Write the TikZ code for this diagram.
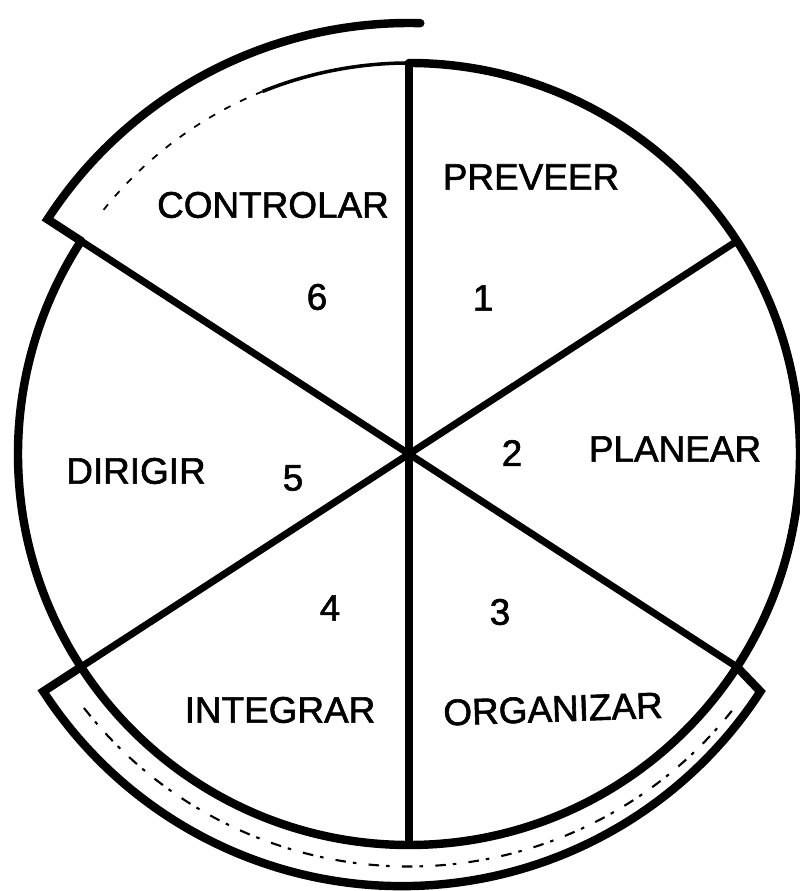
\documentclass[tikz,border=0pt]{standalone}
\usepackage{fontspec}
\setmainfont{Liberation Sans}
\newfontfamily\wheelfont[FakeBold=1.6]{Liberation Sans}
\begin{document}
\begin{tikzpicture}[
  lbl/.style={font=\wheelfont\fontsize{21}{25}\selectfont, inner sep=0pt},
  rim/.style={line width=4.8pt, line cap=round, line join=miter},
  spoke/.style={line width=4pt}]
\useasboundingbox (0,0) rectangle (15.98,17.82);
\coordinate (c) at (8.18,8.74);
\foreach \a/\n in {90/n,33/ne,327/se,270/s,213/sw,147/nw}{
\coordinate (\n) at ([shift={(\a:7.82)}]c);
}
\foreach \n in {n,ne,se,s,sw,nw}{
\draw[spoke] (c) -- (\n);
}
\draw[rim] (n) arc[start angle=90, end angle=-213, radius=7.82];
%\draw[rim] (n) arc[start angle=90, end angle=147, radius=7.82];
\draw[line width=2pt] (n) arc[start angle=90, end angle=112, radius=7.82];
\draw[line width=1pt, dash pattern=on 4pt off 6pt] ([shift={(112:7.82)}]c) arc[start angle=112, end angle=142, radius=7.82];
\coordinate (nwout) at ([shift={(147:8.62)}]c);
\coordinate (swout) at ([shift={(213:8.72)}]c);
\draw[rim] (nw) -- (nwout) arc[start angle=147, end angle=88.5, radius=8.62];
\draw[rim] (sw) -- (swout) arc[start angle=213, end angle=327, radius=8.55] -- (se);
\draw[line width=1.2pt, dash pattern=on 6pt off 4pt on 2pt off 7pt] ([shift={(218:8.25)}]c) arc[start angle=218, end angle=322, radius=8.25];
\node[lbl] (prev) at (10.62,14.28) {PREVEER};
\node[lbl] (plan) at (13.50,8.84) {PLANEAR};
\node[lbl, rotate=2] (orga) at (11.06,3.64) {ORGANIZAR};
\node[lbl] (inte) at (5.60,3.62) {INTEGRAR};
\node[lbl] (diri) at (2.72,8.40) {DIRIGIR};
\node[lbl] (cont) at (5.46,13.72) {CONTROLAR};
\node[lbl] (n1) at (9.66,11.86) {1};
\node[lbl] (n2) at (10.24,8.76) {2};
\node[lbl] (n3) at (10.00,5.58) {3};
\node[lbl] (n4) at (6.60,5.66) {4};
\node[lbl] (n5) at (5.86,8.26) {5};
\node[lbl] (n6) at (6.34,11.88) {6};
\end{tikzpicture}
\end{document}
